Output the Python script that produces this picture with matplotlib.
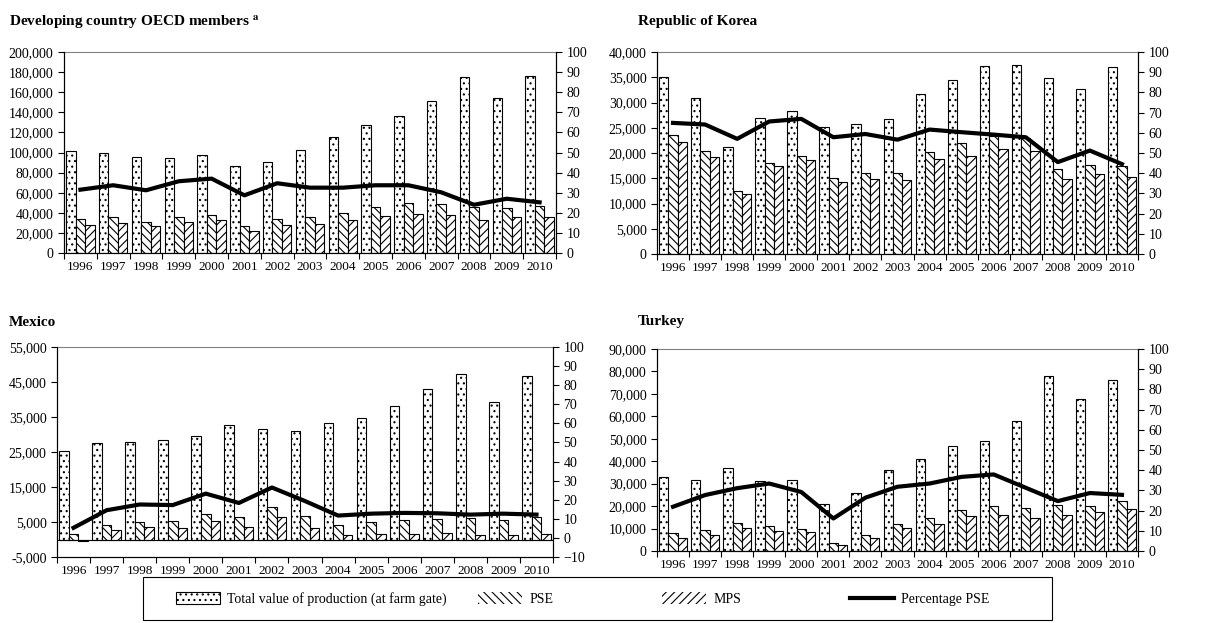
import matplotlib.pyplot as plt
import matplotlib.patches as mpatches
from matplotlib.lines import Line2D
from matplotlib.ticker import FuncFormatter
import numpy as np

plt.rcParams['font.family'] = ['Liberation Serif', 'DejaVu Serif']
plt.rcParams['mathtext.fontset'] = 'stix'
plt.rcParams['hatch.linewidth'] = 0.8

years = [str(y) for y in range(1996, 2011)]

# Developing country OECD members (USD million)
oecd_total = [101800, 99100, 95200, 95000, 97800, 86800, 90800, 102000,
              115500, 127200, 136500, 151200, 175300, 154600, 176300]
oecd_pse = [34000, 35400, 31000, 35700, 38000, 26400, 34000, 35700,
            40000, 46000, 49700, 49000, 45700, 44700, 47000]
oecd_mps = [28000, 29700, 26700, 30400, 33000, 21400, 27400, 28400,
            33000, 36700, 39000, 37400, 32400, 35400, 36000]
oecd_pct = [31.5, 33.7, 31.2, 35.7, 37.0, 28.7, 34.7, 32.5,
            32.5, 33.7, 33.7, 30.2, 24.0, 27.0, 25.2]

# Republic of Korea
kor_total = [35000, 30800, 21100, 26900, 28400, 25200, 25800, 26800,
             31600, 34400, 37200, 37500, 34900, 32700, 37000]
kor_pse = [23600, 20300, 12400, 18100, 19400, 15000, 16000, 16000,
           20200, 22000, 23300, 23000, 16800, 17700, 17500]
kor_mps = [22200, 19200, 11800, 17400, 18600, 14200, 14900, 14600,
           18900, 19400, 20800, 20300, 14800, 15900, 15200]
kor_pct = [64.9, 64.1, 57.0, 65.6, 66.9, 57.8, 59.4, 56.6,
           61.6, 60.3, 59.1, 57.8, 45.5, 51.2, 44.5]

# Mexico
mex_total = [25200, 27700, 27800, 28400, 29600, 32600, 31500, 31000,
             33300, 34800, 38200, 42900, 47200, 39200, 46700]
mex_pse = [1500, 4200, 5100, 5200, 7300, 6500, 9200, 6600,
           4200, 4900, 5500, 6000, 6200, 5500, 6300]
mex_mps = [-500, 2600, 3700, 3400, 5400, 3700, 6300, 3300,
           1300, 1500, 1700, 1800, 1200, 1400, 1600]
mex_pct = [5.3, 14.5, 17.5, 17.2, 23.2, 18.3, 26.4, 19.3,
           11.7, 12.7, 13.1, 12.9, 12.2, 12.7, 12.2]

# Turkey
tur_total = [33100, 31600, 37100, 31300, 31600, 20900, 26000, 36000,
             41200, 47000, 49100, 58000, 77900, 67700, 76000]
tur_pse = [7900, 9500, 12300, 11100, 9600, 3700, 7300, 12200,
           14800, 18400, 20000, 19300, 20300, 20000, 22300]
tur_mps = [5600, 7300, 10400, 9100, 8500, 2800, 5800, 10100,
           12200, 15400, 16200, 14700, 16200, 17500, 18800]
tur_pct = [21.9, 27.7, 31.1, 33.4, 29.2, 16.1, 26.4, 31.8,
           33.4, 36.7, 37.9, 31.3, 24.7, 28.7, 27.8]

W, H = 1205, 623


def rect(left, right, top, bottom):
    return [left / W, 1 - bottom / H, (right - left) / W, (bottom - top) / H]


panels = [
    dict(title=r'Developing country OECD members $^{\mathbf{a}}$',
         total=oecd_total, pse=oecd_pse, mps=oecd_mps, pct=oecd_pct,
         ylim=(0, 200000), ystep=20000, y2lim=(0, 100),
         box=rect(64, 556, 52, 253), tpos=(9, 22)),
    dict(title='Republic of Korea',
         total=kor_total, pse=kor_pse, mps=kor_mps, pct=kor_pct,
         ylim=(0, 40000), ystep=5000, y2lim=(0, 100),
         box=rect(657, 1138, 52, 254), tpos=(638, 22)),
    dict(title='Mexico',
         total=mex_total, pse=mex_pse, mps=mex_mps, pct=mex_pct,
         ylim=(-5000, 55000), ystep=10000, y2lim=(-10, 100),
         box=rect(57, 553, 347, 557), tpos=(9, 322)),
    dict(title='Turkey',
         total=tur_total, pse=tur_pse, mps=tur_mps, pct=tur_pct,
         ylim=(0, 90000), ystep=10000, y2lim=(0, 100),
         box=rect(657, 1138, 349, 551), tpos=(638, 322)),
]

fig = plt.figure(figsize=(W / 100, H / 100), dpi=100)

x = np.arange(len(years))
w = 0.29
thousands = FuncFormatter(lambda v, p: f'{v:,.0f}')

for p in panels:
    ax = fig.add_axes(p['box'])
    ax.bar(x - w, p['total'], w, color='white', edgecolor='black',
           hatch='...', linewidth=0.8, zorder=2)
    ax.bar(x, p['pse'], w, color='white', edgecolor='black',
           hatch='\\\\\\\\', linewidth=0.8, zorder=2)
    ax.bar(x + w, p['mps'], w, color='white', edgecolor='black',
           hatch='////', linewidth=0.8, zorder=2)
    if p['ylim'][0] < 0:
        ax.axhline(0, color='black', linewidth=0.8, zorder=3)

    ax.set_xlim(-0.5, len(years) - 0.5)
    ax.set_ylim(*p['ylim'])
    ax.set_yticks(np.arange(p['ylim'][0], p['ylim'][1] + 1, p['ystep']))
    ax.yaxis.set_major_formatter(thousands)
    ax.set_xticks(np.arange(-0.5, len(years), 1))
    ax.set_xticklabels([])
    ax.set_xticks(x, minor=True)
    ax.set_xticklabels(years, minor=True)
    ax.tick_params(axis='x', which='minor', length=0, pad=6, labelsize=9.5)
    ax.tick_params(axis='x', which='major', length=4, width=0.8)
    ax.tick_params(axis='y', length=4, width=0.8, labelsize=10)
    ax.spines['top'].set_color('#808080')
    for s in ax.spines.values():
        s.set_linewidth(0.8)

    ax2 = ax.twinx()
    ax2.plot(x, p['pct'], color='black', linewidth=3, zorder=4)
    ax2.set_ylim(*p['y2lim'])
    ax2.set_yticks(np.arange(p['y2lim'][0], 101, 10))
    ax2.tick_params(axis='y', length=4, width=0.8, labelsize=10)
    ax2.spines['top'].set_visible(False)
    for s in ax2.spines.values():
        s.set_linewidth(0.8)

    fig.text(p['tpos'][0] / W, 1 - p['tpos'][1] / H, p['title'],
             fontsize=11, fontweight='bold', va='center', ha='left')

# legend box and items
fig.add_artist(mpatches.Rectangle((143 / W, 1 - 620 / H), 909 / W, 43 / H,
                                  transform=fig.transFigure, fill=False,
                                  edgecolor='black', linewidth=0.8))
handles = [
    mpatches.Patch(facecolor='white', edgecolor='black', hatch='...', linewidth=0.8),
    mpatches.Patch(facecolor='white', edgecolor='black', hatch='\\\\\\\\', linewidth=0),
    mpatches.Patch(facecolor='white', edgecolor='black', hatch='////', linewidth=0),
    Line2D([], [], color='black', linewidth=3),
]
labels = ['Total value of production (at farm gate)', 'PSE', 'MPS', 'Percentage PSE']
xpos = [176, 478, 662, 850]
for h, l, xp in zip(handles, labels, xpos):
    fig.legend([h], [l], loc='center left', bbox_to_anchor=(xp / W, 1 - 599 / H),
               frameon=False, fontsize=10, handlelength=3.2, handleheight=1.0,
               handletextpad=0.5, borderpad=0, borderaxespad=0)

fig.savefig('out.png', dpi=100)
